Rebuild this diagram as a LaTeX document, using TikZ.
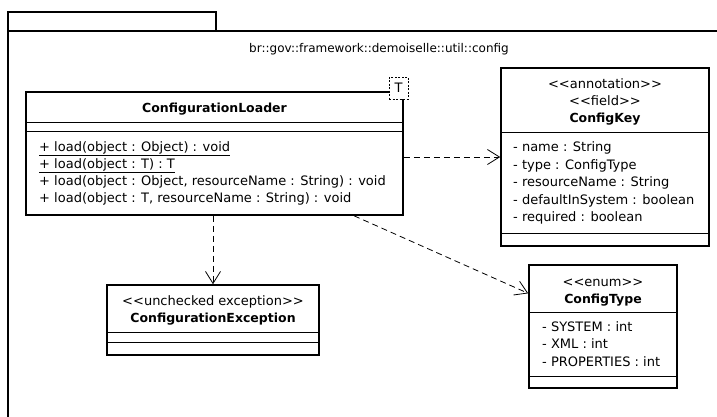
\documentclass[tikz,border=0pt]{standalone}
\usepackage{fontspec}
\setmainfont{DejaVu Sans}
\usetikzlibrary{arrows.meta}

\tikzset{
  pkgline/.style={line width=1.6pt},
  classbox/.style={draw, line width=1.6pt, fill=white, inner sep=0pt},
  divider/.style={line width=0.8pt},
  member/.style={anchor=base west, inner sep=0pt, font=\fontsize{13}{15}\selectfont},
  stereo/.style={anchor=base, inner sep=0pt, font=\fontsize{13}{15}\selectfont},
  classname/.style={anchor=base, inner sep=0pt, font=\fontsize{12.5}{15}\selectfont\bfseries},
  tparam/.style={draw, dashed, dash pattern=on 2pt off 1.5pt, line width=0.8pt, fill=white,
    minimum width=19pt, minimum height=22pt, inner sep=0pt, font=\fontsize{13}{15}\selectfont},
  depend/.style={dash pattern=on 6pt off 4pt, line width=0.8pt,
    -{Straight Barb[length=12pt,width=15pt,line width=0.8pt]}},
}

\begin{document}
\begin{tikzpicture}[x=1pt, y=-1pt]
  \useasboundingbox (0,0) rectangle (717,416);
  \clip (0,0) rectangle (717,416);
  \fill[white] (0,0) rectangle (717,416);

  % package frame
  \draw[pkgline] (8,31) -- (8,12) -- (216,12) -- (216,31);
  \draw[pkgline] (8,430) -- (8,31) -- (730,31);
  \node[font=\fontsize{12}{14}\selectfont, anchor=base] (pkgname) at (379,52)
    {br::gov::framework::demoiselle::util::config};

  % ConfigurationLoader
  \node[classbox, minimum width=377pt, minimum height=123pt] (loader) at (214.5,153.5) {};
  \node[classname] (loadername) at (214.5,112.5) {ConfigurationLoader};
  \draw[divider] (26,122) -- (403,122);
  \draw[divider] (26,131) -- (403,131);
  \node[member] (m1) at (39,151.5) {\underline{+ load(object : Object) : void}};
  \node[member] (m2) at (39,168.5) {\underline{+ load(object : T) : T}};
  \node[member] (m3) at (39,185.5) {+ load(object : Object, resourceName : String) : void};
  \node[member] (m4) at (39,202.5) {+ load(object : T, resourceName : String) : void};
  \node[tparam] (tpar) at (398.5,88) {T};

  % ConfigKey
  \node[classbox, minimum width=208pt, minimum height=178pt] (ckey) at (605,157) {};
  \node[stereo] (ckeys1) at (605,88) {<{}<annotation>{}>};
  \node[stereo] (ckeys2) at (605,105.5) {<{}<field>{}>};
  \node[classname] (ckeyname) at (605,122.5) {ConfigKey};
  \draw[divider] (501,132) -- (709,132);
  \node[member] (a1) at (513,151.5) {- name : String};
  \node[member] (a2) at (513,169) {- type : ConfigType};
  \node[member] (a3) at (513,186.5) {- resourceName : String};
  \node[member] (a4) at (513,204) {- defaultInSystem : boolean};
  \node[member] (a5) at (513,221.5) {- required : boolean};
  \draw[divider] (501,233) -- (709,233);

  % ConfigurationException
  \node[classbox, minimum width=212pt, minimum height=70pt] (exc) at (213,320) {};
  \node[stereo] (excs) at (213,305.5) {<{}<unchecked exception>{}>};
  \node[classname] (excname) at (213,322) {ConfigurationException};
  \draw[divider] (107,332) -- (319,332);
  \draw[divider] (107,342) -- (319,342);

  % ConfigType
  \node[classbox, minimum width=148pt, minimum height=123pt] (ctype) at (603,326.5) {};
  \node[stereo] (ctypes) at (603,286.5) {<{}<enum>{}>};
  \node[classname] (ctypename) at (603,303) {ConfigType};
  \draw[divider] (529,312) -- (677,312);
  \node[member] (e1) at (542,331.5) {- SYSTEM : int};
  \node[member] (e2) at (542,348.5) {- XML : int};
  \node[member] (e3) at (542,366.5) {- PROPERTIES : int};
  \draw[divider] (529,376) -- (677,376);

  % dependencies
  \draw[depend] (loader.east |- ckey.west) -- (ckey.west);
  \draw[depend] (loader.south -| exc.north) -- (exc.north);
  \draw[depend] (loader) -- (ctype);
\end{tikzpicture}
\end{document}
